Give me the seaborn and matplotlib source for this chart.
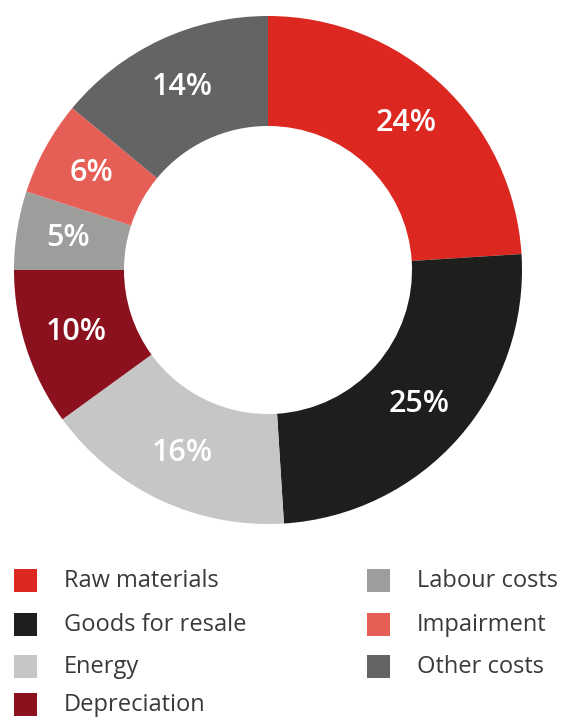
import numpy as np
import matplotlib
matplotlib.use("Agg")
import matplotlib.pyplot as plt
from matplotlib.patches import Rectangle
import seaborn as sns

categories = ["Raw materials", "Goods for resale", "Energy", "Depreciation",
              "Labour costs", "Impairment", "Other costs"]
shares = [24, 25, 16, 10, 5, 6, 14]
colors = ["#DC2820", "#1E1E1C", "#C6C6C6", "#8B111E",
          "#9D9D9C", "#E65F57", "#646464"]

sns.set_theme(style="white")
plt.rcParams["font.family"] = ["Open Sans", "DejaVu Sans"]

W, H = 561, 719
fig = plt.figure(figsize=(W / 100, H / 100), dpi=100)
fig.patch.set_facecolor("white")

# donut axes: centre (268, 270) px, outer radius 254 px
cx, cy, r = 268, 270, 254
ax = fig.add_axes([(cx - r) / W, (H - cy - r) / H, 2 * r / W, 2 * r / H])
inner = 0.567
wedges, _ = ax.pie(shares, colors=sns.color_palette(colors), startangle=90,
                   counterclock=False, radius=1,
                   wedgeprops=dict(width=1 - inner, linewidth=0))
ax.set_xlim(-1, 1)
ax.set_ylim(-1, 1)
ax.set_aspect("equal")
ax.axis("off")

rlab = 0.795
for w, v in zip(wedges, shares):
    ang = np.deg2rad((w.theta1 + w.theta2) / 2)
    ax.text(rlab * np.cos(ang), rlab * np.sin(ang), f"{v}%",
            ha="center", va="center", color="white",
            fontsize=22, fontweight="semibold")

# legend in two columns
rows_y = [581, 625, 667, 705]
col_x = [14, 367]
sq = 23
for i, (name, col) in enumerate(zip(categories, colors)):
    c, rrow = (0, i) if i < 4 else (1, i - 4)
    x0 = col_x[c]
    yc = rows_y[rrow]
    fig.patches.append(Rectangle((x0 / W, (H - yc + 1 - sq / 2) / H), sq / W, sq / H,
                                 transform=fig.transFigure, facecolor=col,
                                 edgecolor="none"))
    fig.text((x0 + 50) / W, (H - yc) / H, name, ha="left", va="center",
             fontsize=17, color="#3A3A3A")

fig.savefig("out.png", dpi=100, facecolor="white")
